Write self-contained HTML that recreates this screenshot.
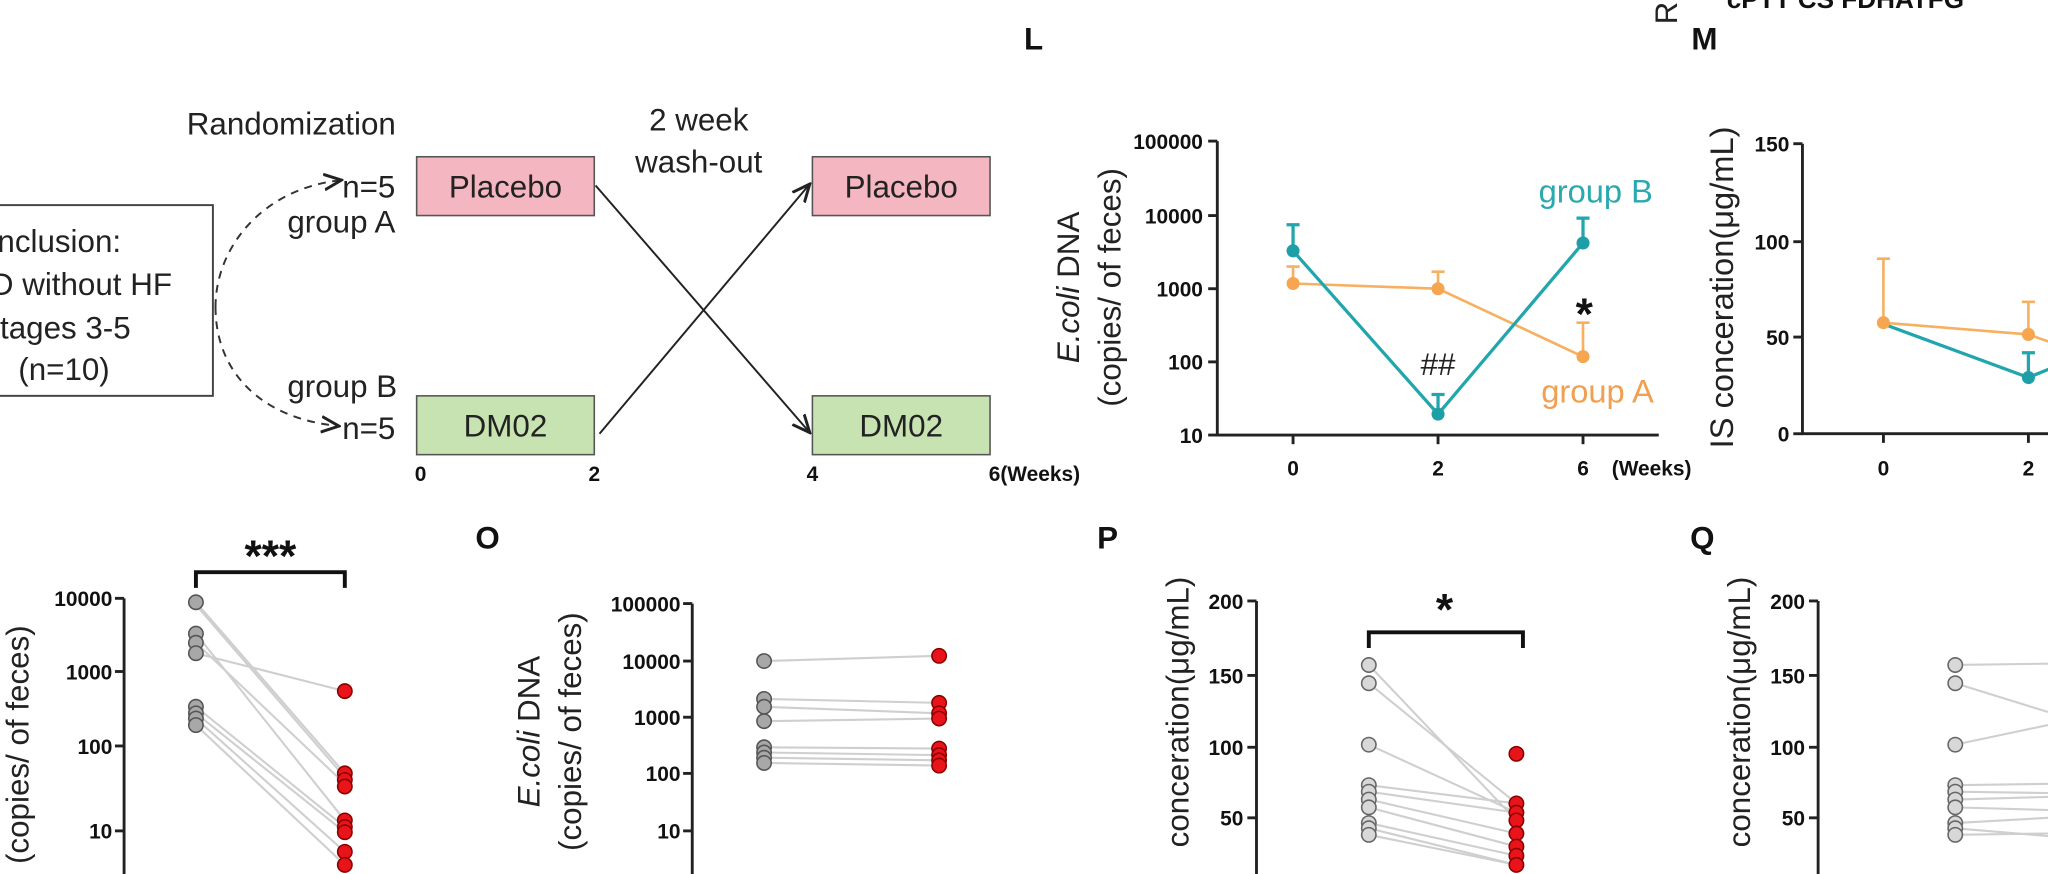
<!DOCTYPE html>
<html><head><meta charset="utf-8"><style>
html,body{margin:0;padding:0;background:#fff;}
svg{display:block;}
text{font-family:"Liberation Sans",Arial,sans-serif;}
.t{font-size:24px;fill:#222;}
.tk{font-size:16px;font-weight:bold;fill:#111;}
.lb{font-size:24px;font-weight:bold;fill:#111;}
.ax{stroke:#222;stroke-width:2.2;fill:none;}
.gl{stroke:#cfcfcf;stroke-width:1.6;}
.g{fill:#a8a8a8;stroke:#555;stroke-width:1.2;}
.gh{fill:#d8d8d8;stroke:#666;stroke-width:1.2;}
.r{fill:#e8141a;stroke:#8a0000;stroke-width:1.2;}
</style></head><body>
<svg width="2048" height="874" viewBox="0 0 1568 669" preserveAspectRatio="none" xmlns="http://www.w3.org/2000/svg">
<defs><marker id="ar" markerWidth="10" markerHeight="10" refX="8" refY="5" orient="auto"><path d="M0,1 L9,5 L0,9" fill="none" stroke="#222" stroke-width="1.5"/></marker></defs>

<!-- Diagram -->
<rect x="-5" y="157" width="168" height="146" fill="#fff" stroke="#444" stroke-width="1.5"/>
<text class="t" x="-2" y="193">nclusion:</text>
<text class="t" x="-7" y="226">D without HF</text>
<text class="t" x="0" y="259">tages 3-5</text>
<text class="t" x="14" y="291">(n=10)</text>
<text class="t" x="143" y="103">Randomization</text>
<text class="t" x="535" y="100" text-anchor="middle">2 week</text>
<text class="t" x="535" y="132" text-anchor="middle">wash-out</text>
<path d="M165,235 C165,190 200,145 260,138" fill="none" stroke="#333" stroke-width="1.5" stroke-dasharray="6,5" marker-end="url(#ar)"/>
<path d="M165,235 C165,285 200,320 258,326" fill="none" stroke="#333" stroke-width="1.5" stroke-dasharray="6,5" marker-end="url(#ar)"/>
<text class="t" x="262" y="151">n=5</text>
<text class="t" x="220" y="178">group A</text>
<text class="t" x="220" y="304">group B</text>
<text class="t" x="262" y="336">n=5</text>
<rect x="319" y="120" width="136" height="45" fill="#f4b6c0" stroke="#555" stroke-width="1.2"/>
<text class="t" x="387" y="151" text-anchor="middle">Placebo</text>
<rect x="319" y="303" width="136" height="45" fill="#c8e3b2" stroke="#555" stroke-width="1.2"/>
<text class="t" x="387" y="334" text-anchor="middle">DM02</text>
<rect x="622" y="120" width="136" height="45" fill="#f4b6c0" stroke="#555" stroke-width="1.2"/>
<text class="t" x="690" y="151" text-anchor="middle">Placebo</text>
<rect x="622" y="303" width="136" height="45" fill="#c8e3b2" stroke="#555" stroke-width="1.2"/>
<text class="t" x="690" y="334" text-anchor="middle">DM02</text>
<line x1="456" y1="142" x2="619" y2="330" stroke="#222" stroke-width="1.5" marker-end="url(#ar)"/>
<line x1="459" y1="332" x2="619" y2="142" stroke="#222" stroke-width="1.5" marker-end="url(#ar)"/>
<text class="tk" x="322" y="368" text-anchor="middle">0</text>
<text class="tk" x="455" y="368" text-anchor="middle">2</text>
<text class="tk" x="622" y="368" text-anchor="middle">4</text>
<text class="tk" x="757" y="368">6(Weeks)</text>

<!-- Panel L -->
<text class="lb" x="784" y="38">L</text>
<text font-size="24" fill="#222" transform="translate(826,220) rotate(-90)" text-anchor="middle"><tspan font-style="italic">E.coli</tspan> DNA</text>
<text font-size="24" fill="#222" transform="translate(858,220) rotate(-90)" text-anchor="middle">(copies/ of feces)</text>
<path class="ax" d="M932,108 V333 H1270"/>
<g stroke="#222" stroke-width="2.2"><line x1="925" y1="108" x2="932" y2="108"/><line x1="925" y1="165" x2="932" y2="165"/><line x1="925" y1="221" x2="932" y2="221"/><line x1="925" y1="277" x2="932" y2="277"/><line x1="925" y1="333" x2="932" y2="333"/>
<line x1="990" y1="333" x2="990" y2="340"/><line x1="1101" y1="333" x2="1101" y2="340"/><line x1="1212" y1="333" x2="1212" y2="340"/></g>
<g class="tk" text-anchor="end"><text x="921" y="114">100000</text><text x="921" y="171">10000</text><text x="921" y="227">1000</text><text x="921" y="283">100</text><text x="921" y="339">10</text></g>
<g class="tk" text-anchor="middle"><text x="990" y="364">0</text><text x="1101" y="364">2</text><text x="1212" y="364">6</text></g>
<text class="tk" x="1234" y="364" font-size="17">(Weeks)</text>
<g stroke="#f6b062" stroke-width="2" fill="none"><path d="M990,217 V204 M985,204 H995 M1101,221 V208 M1096,208 H1106 M1212,273 V247 M1207,247 H1217"/><path d="M990,217 L1101,221 L1212,273"/></g>
<g fill="#f6a650"><circle cx="990" cy="217" r="5"/><circle cx="1101" cy="221" r="5"/><circle cx="1212" cy="273" r="5"/></g>
<g stroke="#22a6ad" stroke-width="2.5" fill="none"><path d="M990,192 V172 M985,172 H995 M1101,317 V302 M1096,302 H1106 M1212,186 V167 M1207,167 H1217"/><path d="M990,192 L1101,317 L1212,186"/></g>
<g fill="#1e9ea6"><circle cx="990" cy="192" r="5"/><circle cx="1101" cy="317" r="5"/><circle cx="1212" cy="186" r="5"/></g>
<text x="1178" y="155" font-size="25" fill="#2aa9b0">group B</text>
<text x="1180" y="308" font-size="25" fill="#f0a050">group A</text>
<text x="1101" y="287" font-size="24" fill="#222" text-anchor="middle">##</text>
<text x="1213" y="252" font-size="34" fill="#111" text-anchor="middle" font-weight="bold">*</text>

<!-- Panel M -->
<text class="lb" x="1295" y="38">M</text>
<text font-size="24" fill="#222" transform="translate(1284,10) rotate(-90)" text-anchor="middle">R</text>
<text x="1322" y="6" font-size="20" font-weight="bold" fill="#111">cPTT     CS   FDHATFG</text>
<text font-size="25" fill="#222" transform="translate(1327,220) rotate(-90)" text-anchor="middle">IS conceration(μg/mL)</text>
<path class="ax" d="M1380,110 V332 H1568"/>
<g stroke="#222" stroke-width="2.2"><line x1="1373" y1="110" x2="1380" y2="110"/><line x1="1373" y1="185" x2="1380" y2="185"/><line x1="1373" y1="258" x2="1380" y2="258"/><line x1="1373" y1="332" x2="1380" y2="332"/><line x1="1442" y1="332" x2="1442" y2="339"/><line x1="1553" y1="332" x2="1553" y2="339"/></g>
<g class="tk" text-anchor="end"><text x="1370" y="116">150</text><text x="1370" y="191">100</text><text x="1370" y="264">50</text><text x="1370" y="338">0</text></g>
<g class="tk" text-anchor="middle"><text x="1442" y="364">0</text><text x="1553" y="364">2</text></g>
<g stroke="#f6b062" stroke-width="2" fill="none"><path d="M1442,247 V198 M1437,198 H1447 M1553,256 V231 M1548,231 H1558"/><path d="M1442,247 L1553,256 L1570,262"/></g>
<g stroke="#22a6ad" stroke-width="2.5" fill="none"><path d="M1553,289 V270 M1548,270 H1558"/><path d="M1442,248 L1553,289 L1570,282"/></g>
<g fill="#f6a650"><circle cx="1442" cy="247" r="5"/><circle cx="1553" cy="256" r="5"/></g>
<circle cx="1553" cy="289" r="5" fill="#1e9ea6"/>

<!-- Panel N -->
<text font-size="24" fill="#222" transform="translate(22,570) rotate(-90)" text-anchor="middle">(copies/ of feces)</text>
<path class="ax" d="M95,458 V669"/>
<g stroke="#222" stroke-width="2.2"><line x1="88" y1="458" x2="95" y2="458"/><line x1="88" y1="514" x2="95" y2="514"/><line x1="88" y1="571" x2="95" y2="571"/><line x1="88" y1="636" x2="95" y2="636"/></g>
<g class="tk" text-anchor="end"><text x="86" y="464">10000</text><text x="86" y="520">1000</text><text x="86" y="577">100</text><text x="86" y="642">10</text></g>
<text x="207" y="437" font-size="34" font-weight="bold" text-anchor="middle" fill="#111">***</text>
<path d="M150,450 V438 H264 V450" fill="none" stroke="#111" stroke-width="3"/>
<g class="gl"><line x1="150" y1="461" x2="264" y2="592"/><line x1="150" y1="485" x2="264" y2="628"/><line x1="150" y1="492" x2="264" y2="600"/><line x1="150" y1="500" x2="264" y2="529"/><line x1="150" y1="541" x2="264" y2="633"/><line x1="150" y1="546" x2="264" y2="637"/><line x1="150" y1="550" x2="264" y2="652"/><line x1="150" y1="555" x2="264" y2="662"/><line x1="150" y1="463" x2="264" y2="595"/></g>
<g class="g"><circle cx="150" cy="461" r="5.5"/><circle cx="150" cy="485" r="5.5"/><circle cx="150" cy="492" r="5.5"/><circle cx="150" cy="500" r="5.5"/><circle cx="150" cy="541" r="5.5"/><circle cx="150" cy="546" r="5.5"/><circle cx="150" cy="550" r="5.5"/><circle cx="150" cy="555" r="5.5"/></g>
<g class="r"><circle cx="264" cy="529" r="5.5"/><circle cx="264" cy="592" r="5.5"/><circle cx="264" cy="597" r="5.5"/><circle cx="264" cy="602" r="5.5"/><circle cx="264" cy="628" r="5.5"/><circle cx="264" cy="633" r="5.5"/><circle cx="264" cy="637" r="5.5"/><circle cx="264" cy="652" r="5.5"/><circle cx="264" cy="662" r="5.5"/></g>

<!-- Panel O -->
<text class="lb" x="364" y="420">O</text>
<text font-size="24" fill="#222" transform="translate(413,560) rotate(-90)" text-anchor="middle"><tspan font-style="italic">E.coli</tspan> DNA</text>
<text font-size="24" fill="#222" transform="translate(445,560) rotate(-90)" text-anchor="middle">(copies/ of feces)</text>
<path class="ax" d="M530,462 V669"/>
<g stroke="#222" stroke-width="2.2"><line x1="523" y1="462" x2="530" y2="462"/><line x1="523" y1="506" x2="530" y2="506"/><line x1="523" y1="549" x2="530" y2="549"/><line x1="523" y1="592" x2="530" y2="592"/><line x1="523" y1="636" x2="530" y2="636"/></g>
<g class="tk" text-anchor="end"><text x="521" y="468">100000</text><text x="521" y="512">10000</text><text x="521" y="555">1000</text><text x="521" y="598">100</text><text x="521" y="642">10</text></g>
<g class="gl"><line x1="585" y1="506" x2="719" y2="502"/><line x1="585" y1="535" x2="719" y2="538"/><line x1="585" y1="541" x2="719" y2="546"/><line x1="585" y1="552" x2="719" y2="550"/><line x1="585" y1="572" x2="719" y2="573"/><line x1="585" y1="576" x2="719" y2="578"/><line x1="585" y1="580" x2="719" y2="582"/><line x1="585" y1="584" x2="719" y2="586"/></g>
<g class="g"><circle cx="585" cy="506" r="5.5"/><circle cx="585" cy="535" r="5.5"/><circle cx="585" cy="541" r="5.5"/><circle cx="585" cy="552" r="5.5"/><circle cx="585" cy="572" r="5.5"/><circle cx="585" cy="576" r="5.5"/><circle cx="585" cy="580" r="5.5"/><circle cx="585" cy="584" r="5.5"/></g>
<g class="r"><circle cx="719" cy="502" r="5.5"/><circle cx="719" cy="538" r="5.5"/><circle cx="719" cy="546" r="5.5"/><circle cx="719" cy="550" r="5.5"/><circle cx="719" cy="573" r="5.5"/><circle cx="719" cy="578" r="5.5"/><circle cx="719" cy="582" r="5.5"/><circle cx="719" cy="586" r="5.5"/></g>

<!-- Panel P -->
<text class="lb" x="840" y="420">P</text>
<text font-size="24" fill="#222" transform="translate(910,545) rotate(-90)" text-anchor="middle">conceration(μg/mL)</text>
<path class="ax" d="M962,460 V669"/>
<g stroke="#222" stroke-width="2.2"><line x1="955" y1="460" x2="962" y2="460"/><line x1="955" y1="517" x2="962" y2="517"/><line x1="955" y1="572" x2="962" y2="572"/><line x1="955" y1="626" x2="962" y2="626"/></g>
<g class="tk" text-anchor="end"><text x="952" y="466">200</text><text x="952" y="523">150</text><text x="952" y="578">100</text><text x="952" y="632">50</text></g>
<text x="1106" y="478" font-size="34" font-weight="bold" text-anchor="middle" fill="#111">*</text>
<path d="M1048,496 V484 H1166 V496" fill="none" stroke="#111" stroke-width="3"/>
<g class="gl"><line x1="1048" y1="509" x2="1161" y2="628"/><line x1="1048" y1="523" x2="1161" y2="615"/><line x1="1048" y1="570" x2="1161" y2="622"/><line x1="1048" y1="601" x2="1161" y2="615"/><line x1="1048" y1="606" x2="1161" y2="622"/><line x1="1048" y1="612" x2="1161" y2="638"/><line x1="1048" y1="618" x2="1161" y2="648"/><line x1="1048" y1="630" x2="1161" y2="655"/><line x1="1048" y1="634" x2="1161" y2="662"/><line x1="1048" y1="639" x2="1161" y2="662"/></g>
<g class="gh"><circle cx="1048" cy="509" r="5.5"/><circle cx="1048" cy="523" r="5.5"/><circle cx="1048" cy="570" r="5.5"/><circle cx="1048" cy="601" r="5.5"/><circle cx="1048" cy="606" r="5.5"/><circle cx="1048" cy="612" r="5.5"/><circle cx="1048" cy="618" r="5.5"/><circle cx="1048" cy="630" r="5.5"/><circle cx="1048" cy="634" r="5.5"/><circle cx="1048" cy="639" r="5.5"/></g>
<g class="r"><circle cx="1161" cy="577" r="5.5"/><circle cx="1161" cy="615" r="5.5"/><circle cx="1161" cy="622" r="5.5"/><circle cx="1161" cy="628" r="5.5"/><circle cx="1161" cy="638" r="5.5"/><circle cx="1161" cy="648" r="5.5"/><circle cx="1161" cy="655" r="5.5"/><circle cx="1161" cy="662" r="5.5"/></g>

<!-- Panel Q -->
<text class="lb" x="1294" y="420">Q</text>
<text font-size="24" fill="#222" transform="translate(1340,545) rotate(-90)" text-anchor="middle">conceration(μg/mL)</text>
<path class="ax" d="M1392,460 V669"/>
<g stroke="#222" stroke-width="2.2"><line x1="1385" y1="460" x2="1392" y2="460"/><line x1="1385" y1="517" x2="1392" y2="517"/><line x1="1385" y1="572" x2="1392" y2="572"/><line x1="1385" y1="626" x2="1392" y2="626"/></g>
<g class="tk" text-anchor="end"><text x="1382" y="466">200</text><text x="1382" y="523">150</text><text x="1382" y="578">100</text><text x="1382" y="632">50</text></g>
<g class="gl"><line x1="1497" y1="509" x2="1568" y2="508"/><line x1="1497" y1="523" x2="1568" y2="545"/><line x1="1497" y1="570" x2="1568" y2="555"/><line x1="1497" y1="601" x2="1568" y2="600"/><line x1="1497" y1="606" x2="1568" y2="607"/><line x1="1497" y1="612" x2="1568" y2="610"/><line x1="1497" y1="618" x2="1568" y2="620"/><line x1="1497" y1="630" x2="1568" y2="626"/><line x1="1497" y1="634" x2="1568" y2="640"/><line x1="1497" y1="639" x2="1568" y2="638"/></g>
<g class="gh"><circle cx="1497" cy="509" r="5.5"/><circle cx="1497" cy="523" r="5.5"/><circle cx="1497" cy="570" r="5.5"/><circle cx="1497" cy="601" r="5.5"/><circle cx="1497" cy="606" r="5.5"/><circle cx="1497" cy="612" r="5.5"/><circle cx="1497" cy="618" r="5.5"/><circle cx="1497" cy="630" r="5.5"/><circle cx="1497" cy="634" r="5.5"/><circle cx="1497" cy="639" r="5.5"/></g>
</svg>
</body></html>
